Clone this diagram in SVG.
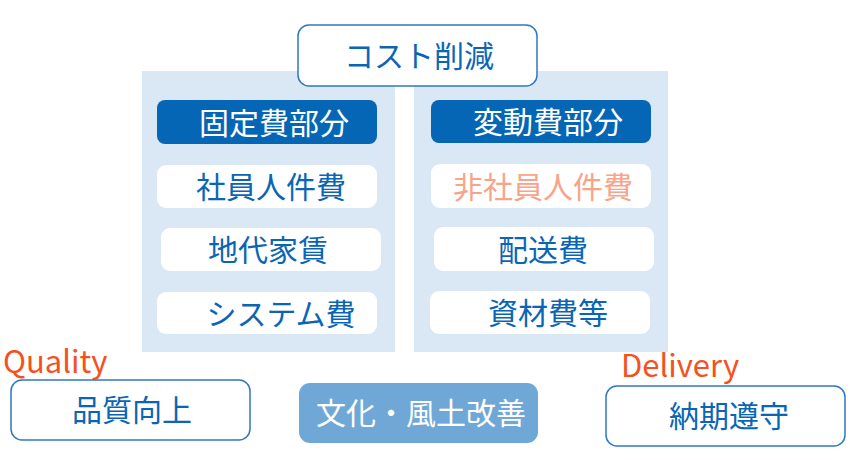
<svg xmlns="http://www.w3.org/2000/svg" width="850" height="460" viewBox="0 0 850 460">
<style>
text{font-family:"Noto Sans CJK JP","Noto Sans",sans-serif;font-size:30px;text-anchor:middle;dominant-baseline:central}
.panel{fill:#DAE7F4}
.hdr{fill:#0466B5}
.item{fill:#FFFFFF}
.out{fill:#FFFFFF;stroke:#2F78BE;stroke-width:1.5}
.blue{fill:#0A66B4}
.white{fill:#FFFFFF}
.salmon{fill:#F7A48A}
.lbl{fill:#F4511E;font-size:31px;text-anchor:start;dominant-baseline:auto}
</style>
<rect width="850" height="460" fill="#FFFFFF"/>
<g id="connectors"></g>
<g id="panel-fixed"><rect class="panel" x="142" y="71" width="253" height="281"/></g>
<g id="panel-variable"><rect class="panel" x="414" y="71" width="254" height="281"/></g>
<g id="cost"><rect class="out" x="298" y="25" width="239" height="61" rx="11"/><text class="blue" x="419" y="54">コスト削減</text></g>
<g id="fixed-hdr"><rect class="hdr" x="157" y="100" width="220" height="44" rx="8"/><text class="white" x="274" y="121">固定費部分</text></g>
<g id="fixed-1"><rect class="item" x="157" y="165" width="220" height="43" rx="9"/><text class="blue" x="271" y="185">社員人件費</text></g>
<g id="fixed-2"><rect class="item" x="161" y="228" width="220" height="43" rx="9"/><text class="blue" x="268" y="248">地代家賃</text></g>
<g id="fixed-3"><rect class="item" x="157" y="292" width="220" height="42" rx="9"/><text class="blue" x="281" y="312">システム費</text></g>
<g id="var-hdr"><rect class="hdr" x="431" y="100" width="220" height="43" rx="8"/><text class="white" x="548" y="120">変動費部分</text></g>
<g id="var-1"><rect class="item" x="431" y="164" width="220" height="44" rx="9"/><text class="salmon" x="543" y="185">非社員人件費</text></g>
<g id="var-2"><rect class="item" x="434" y="227" width="220" height="44" rx="9"/><text class="blue" x="543" y="248">配送費</text></g>
<g id="var-3"><rect class="item" x="430" y="291" width="220" height="43" rx="9"/><text class="blue" x="548" y="311">資材費等</text></g>
<g id="quality"><text class="lbl" x="3" y="373">Quality</text><rect class="out" x="11" y="380" width="239" height="60" rx="11"/><text class="blue" x="132" y="408">品質向上</text></g>
<g id="culture"><rect x="299" y="383" width="239" height="60" rx="11" fill="#6FA8D7"/><text class="white" x="421" y="411">文化・風土改善</text></g>
<g id="delivery"><text class="lbl" x="621" y="377">Delivery</text><rect class="out" x="606" y="386" width="239" height="60" rx="11"/><text class="blue" x="729" y="414">納期遵守</text></g>
</svg>
